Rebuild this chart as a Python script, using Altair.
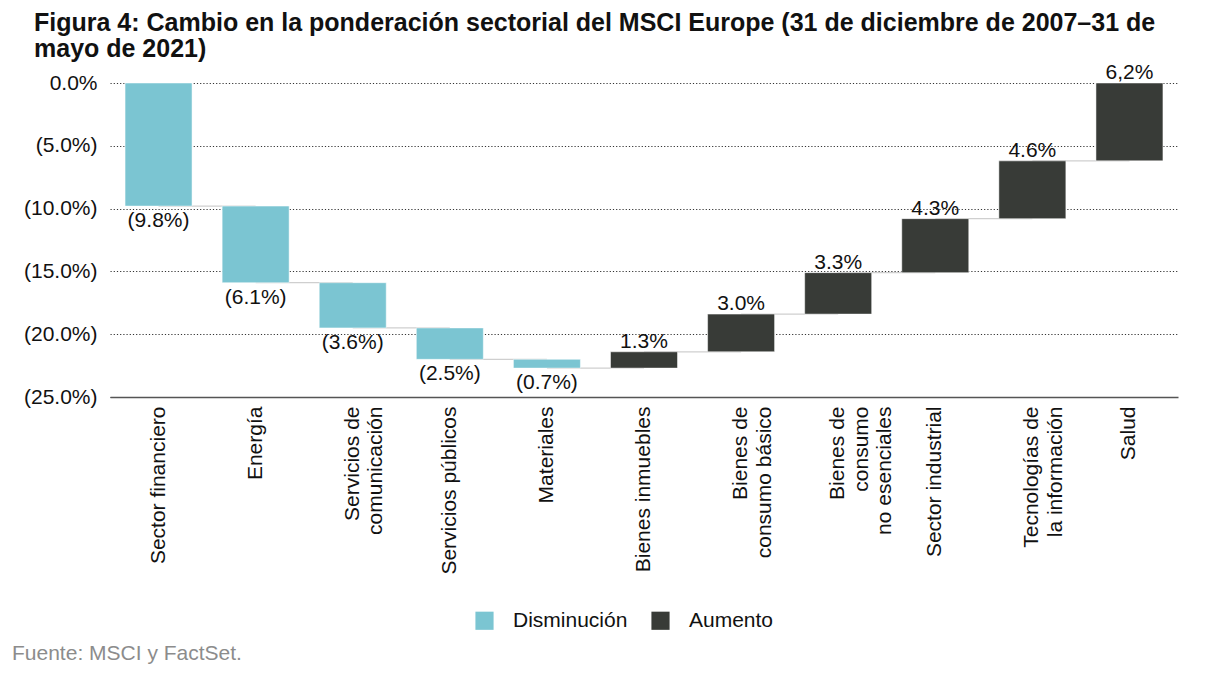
import altair as alt
import pandas as pd

# sectores (| marca salto de línea en la etiqueta del eje)
sectores = [
    "Sector financiero",
    "Energía",
    "Servicios de|comunicación",
    "Servicios públicos",
    "Materiales",
    "Bienes inmuebles",
    "Bienes de|consumo básico",
    "Bienes de|consumo|no esenciales",
    "Sector industrial",
    "Tecnologías de|la información",
    "Salud",
]
cambios = [-9.8, -6.1, -3.6, -2.5, -0.7, 1.3, 3.0, 3.3, 4.3, 4.6, 6.2]
etiquetas = ["(9.8%)", "(6.1%)", "(3.6%)", "(2.5%)", "(0.7%)",
             "1.3%", "3.0%", "3.3%", "4.3%", "4.6%", "6,2%"]
ticks_y = [-25, -20, -15, -10, -5, 0]
titulo = ["Figura 4: Cambio en la ponderación sectorial del MSCI Europe (31 de diciembre de 2007–31 de",
          "mayo de 2021)"]
fuente = "Fuente: MSCI y FactSet."

TEAL = "#7bc5d2"
OSCURO = "#383b37"
FONT = "Liberation Sans"
FS = 21

df = pd.DataFrame({"sector": sectores, "cambio": cambios, "etiqueta": etiquetas})
df["fin"] = df["cambio"].cumsum().round(1)
df["inicio"] = (df["fin"] - df["cambio"]).round(1)
df["tipo"] = ["Disminución" if c < 0 else "Aumento" for c in cambios]
df["siguiente"] = df["sector"].shift(-1)

x_enc = alt.X("sector:N", sort=sectores, title=None,
              scale=alt.Scale(paddingInner=0.31, paddingOuter=0.155),
              axis=alt.Axis(labelAngle=-90, labelAlign="right", labelBaseline="middle",
                            labelExpr="split(datum.label, '|')", labelFontSize=FS,
                            labelLineHeight=23.5, labelPadding=9, labelLimit=400,
                            labelColor="#111", ticks=False, domainColor="#555",
                            domainWidth=1.5, grid=False))
y_scale = alt.Scale(domain=[-25, 0], nice=False)

base = alt.Chart(df)

conectores = base.transform_filter("datum.siguiente != null").mark_rule(
    color="#cfcfcf", strokeWidth=1.2
).encode(
    x=alt.X("sector:N", sort=sectores, bandPosition=0.5),
    x2=alt.X2("siguiente", bandPosition=0.5),
    y=alt.Y("fin:Q", scale=y_scale),
)

barras = base.mark_bar(stroke="white", strokeWidth=0.5).encode(
    x=x_enc,
    y=alt.Y("inicio:Q", scale=y_scale, title=None,
            axis=alt.Axis(values=ticks_y, domain=False, ticks=False, labelFontSize=FS,
                          labelColor="#111", labelPadding=13, gridColor="#333",
                          gridDash=[1.2, 2], gridWidth=1,
                          labelExpr="datum.value == 0 ? '0.0%' : '(' + format(abs(datum.value), '.1f') + '%)'")),
    y2="fin:Q",
    color=alt.Color("tipo:N", scale=alt.Scale(domain=["Disminución", "Aumento"], range=[TEAL, OSCURO]),
                    legend=alt.Legend(title=None, orient="none", direction="horizontal",
                                      legendX=364, legendY=527, symbolType="square", symbolSize=330,
                                      symbolStrokeWidth=0, labelFontSize=FS, labelOffset=18,
                                      labelColor="#111", columnPadding=22, labelFont=FONT)),
)

txt_baja = base.transform_filter("datum.cambio < 0").mark_text(
    baseline="top", dy=4, fontSize=FS, color="#111", font=FONT
).encode(x=alt.X("sector:N", sort=sectores), y=alt.Y("fin:Q", scale=y_scale), text="etiqueta:N")

txt_alza = base.transform_filter("datum.cambio > 0").mark_text(
    baseline="alphabetic", dy=-4, fontSize=FS, color="#111", font=FONT
).encode(x=alt.X("sector:N", sort=sectores), y=alt.Y("fin:Q", scale=y_scale), text="etiqueta:N")

nota = alt.Chart(pd.DataFrame({"t": [fuente]})).mark_text(
    align="left", baseline="alphabetic", fontSize=FS, color="#8c8c8c", font=FONT
).encode(x=alt.value(-98), y=alt.value(577), text="t:N")

chart = alt.layer(conectores, barras, txt_baja, txt_alza, nota).properties(
    width=1068, height=314,
    autosize=alt.AutoSizeParams(type="none"),
    padding={"left": 102, "top": 75, "right": 22, "bottom": 270},
    title=alt.TitleParams(titulo, anchor="start", frame="group", dx=-76, dy=4, fontSize=25,
                          font=FONT, fontWeight="bold", color="#111", lineHeight=26),
).configure_view(stroke=None).configure_axis(labelFont=FONT)

chart.save("out.html", embed_options={"renderer": "svg", "actions": False})
